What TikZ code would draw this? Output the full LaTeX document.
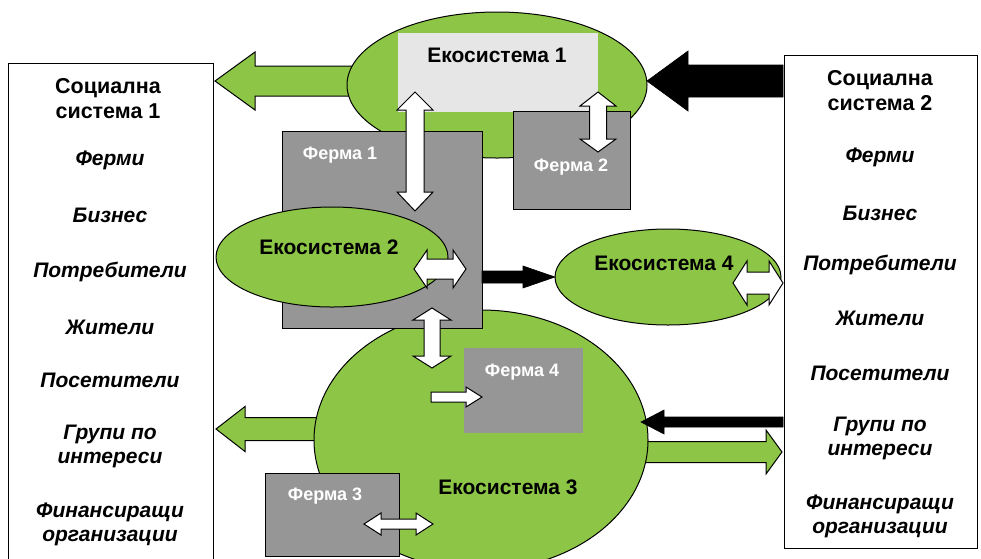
\documentclass[tikz,border=0pt]{standalone}
\usepackage{fontspec}
\setmainfont{Liberation Sans}
\usetikzlibrary{shapes.geometric}
\definecolor{eco}{HTML}{8DC646}
\definecolor{farm}{HTML}{969696}
\definecolor{lite}{HTML}{E6E6E6}
% horizontal double arrow: style, y, lefttip, leftbase, rightbase, righttip, shaft half, head half
\newcommand{\hdbl}[8]{\draw[#1] (#3,#2) -- (#4,#2-#8) -- (#4,#2-#7) -- (#5,#2-#7) -- (#5,#2-#8) -- (#6,#2) -- (#5,#2+#8) -- (#5,#2+#7) -- (#4,#2+#7) -- (#4,#2+#8) -- cycle;}
% vertical double arrow: style, x, toptip, topbase, bottombase, bottomtip, shaft half, head half
\newcommand{\vdbl}[8]{\draw[#1] (#2,#3) -- (#2-#8,#4) -- (#2-#7,#4) -- (#2-#7,#5) -- (#2-#8,#5) -- (#2,#6) -- (#2+#8,#5) -- (#2+#7,#5) -- (#2+#7,#4) -- (#2+#8,#4) -- cycle;}
% horizontal single arrow: style, y, tail, base, tip, shaft half, head half
\newcommand{\hsgl}[7]{\draw[#1] (#3,#2-#6) -- (#4,#2-#6) -- (#4,#2-#7) -- (#5,#2) -- (#4,#2+#7) -- (#4,#2+#6) -- (#3,#2+#6) -- cycle;}
\begin{document}
\begin{tikzpicture}[x=1pt,y=-1pt,
  ecoshape/.style={ellipse,draw,fill=eco,line width=1pt,inner sep=0pt},
  farmbox/.style={rectangle,draw,fill=farm,line width=1pt,inner sep=0pt,anchor=north west},
  socbox/.style={rectangle,draw,line width=1pt,inner sep=0pt,anchor=north west},
  ecotext/.style={font=\bfseries\fontsize{21}{25}\selectfont},
  farmtext/.style={font=\bfseries\fontsize{18}{21}\selectfont,text=white},
  soctitle/.style={font=\bfseries\fontsize{21.5}{25}\selectfont,align=center},
  socitem/.style={font=\bfseries\itshape\fontsize{21}{24}\selectfont,align=center},
  greenarrow/.style={draw,fill=eco,line width=1pt,line join=miter},
  blackarrow/.style={draw,fill=black,line width=0.6pt,line join=miter},
  whitearrow/.style={draw,fill=white,line width=1pt,line join=miter}]
\useasboundingbox (0,0) rectangle (981,558);

% social systems
\node[socbox,minimum width=205pt,minimum height=500pt] (soc1) at (8,63) {};
\node[socbox,minimum width=193pt,minimum height=493pt] (soc2) at (784,55) {};

% arrows that run under the ellipses
\hsgl{greenarrow}{81}{365}{255}{215}{15}{29}
\hsgl{greenarrow}{429}{340}{245}{216}{11.5}{22.5}
\hsgl{greenarrow}{452}{620}{766}{782}{10.5}{22}

% ecosystems and farms
\node[ecoshape,minimum width=334pt,minimum height=260pt] (eco3) at (481,440) {};
\node[ecoshape,minimum width=300pt,minimum height=146pt] (eco1) at (497,85) {};
\fill[lite] (398,33) rectangle (598,112);
\node[farmbox,minimum width=200pt,minimum height=197pt] (farm1) at (282,131) {};
\node[farmbox,minimum width=117pt,minimum height=98pt] (farm2) at (513,111) {};
\node[ecoshape,minimum width=232pt,minimum height=100pt] (eco2) at (332,257) {};
\node[ecoshape,minimum width=226pt,minimum height=96pt] (eco4) at (668,277) {};
\node[farmbox,minimum width=134pt,minimum height=83pt] (farm3) at (265,473) {};
\node[farmbox,draw=none,minimum width=119pt,minimum height=85pt] (farm4) at (463,347) {};

% block arrows on top
\hsgl{blackarrow}{81}{783}{688}{647}{16}{30}
\hsgl{blackarrow}{277}{482}{523}{555}{6}{11}
\hsgl{blackarrow}{422}{783}{664}{641}{5}{12}
\vdbl{whitearrow}{415}{92}{110}{192}{211}{9}{18}
\vdbl{whitearrow}{598}{92}{106}{139}{152}{8.5}{18}
\hdbl{whitearrow}{269}{414}{427}{453}{466}{10}{19}
\hdbl{whitearrow}{283}{733}{747}{769}{783}{11}{22}
\vdbl{whitearrow}{432}{308}{320}{356}{368}{8}{19}
\hsgl{whitearrow}{397}{431}{466}{482}{5}{10}
\hdbl{whitearrow}{524}{364}{381}{416}{433}{5}{11}

% texts
\node[ecotext] (t1) at (497,55) {Екосистема 1};
\node[ecotext] (t2) at (329,247) {Екосистема 2};
\node[ecotext] (t3) at (508,487) {Екосистема 3};
\node[ecotext] (t4) at (664,263) {Екосистема 4};
\node[farmtext] (f1) at (340,155) {Ферма 1};
\node[farmtext] (f2) at (571,167) {Ферма 2};
\node[farmtext] (f3) at (325,496) {Ферма 3};
\node[farmtext] (f4) at (522,372) {Ферма 4};

\node[soctitle] (s1t) at (108,99) {Социална\\система 1};
\node[socitem] (s1a) at (110,160) {Ферми};
\node[socitem] (s1b) at (110,215) {Бизнес};
\node[socitem] (s1c) at (110,272) {Потребители};
\node[socitem] (s1d) at (110,327) {Жители};
\node[socitem] (s1e) at (110,380) {Посетители};
\node[socitem] (s1f) at (110,446) {Групи по\\интереси};
\node[socitem] (s1g) at (110,524) {Финансиращи\\организации};

\node[soctitle] (s2t) at (880,91) {Социална\\система 2};
\node[socitem] (s2a) at (880,157) {Ферми};
\node[socitem] (s2b) at (880,213) {Бизнес};
\node[socitem] (s2c) at (880,265) {Потребители};
\node[socitem] (s2d) at (880,318) {Жители};
\node[socitem] (s2e) at (880,373) {Посетители};
\node[socitem] (s2f) at (880,438) {Групи по\\интереси};
\node[socitem] (s2g) at (880,516) {Финансиращи\\организации};
\end{tikzpicture}
\end{document}
